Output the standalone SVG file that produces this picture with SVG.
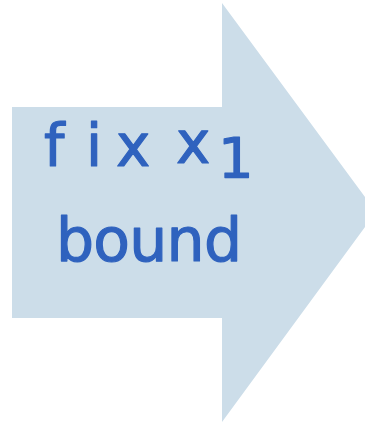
<svg xmlns="http://www.w3.org/2000/svg" width="365" height="423" viewBox="0 0 365 423">
  <style>
    .arrow { fill: #ccdde9; stroke: none; }
    .hand { font-family: "DejaVu Sans", "Noto Sans", sans-serif; fill: #2f62be; stroke: #2f62be; stroke-width: 1.2; stroke-linejoin: round; }
  </style>
  <rect width="365" height="423" fill="#ffffff"/>
  <g id="node-fix-x1-bound">
    <polygon class="arrow" points="12,107 222,107 222,3 376,212 222,422 222,318 12,318"/>
    <text class="hand" font-size="58"><tspan x="44 86 116" y="166">fix</tspan> <tspan x="176" y="163">x</tspan><tspan x="218" y="177" font-size="56">1</tspan></text>
    <text class="hand" font-size="60" x="56" y="261" textLength="186" lengthAdjust="spacing">bound</text>
  </g>
</svg>
